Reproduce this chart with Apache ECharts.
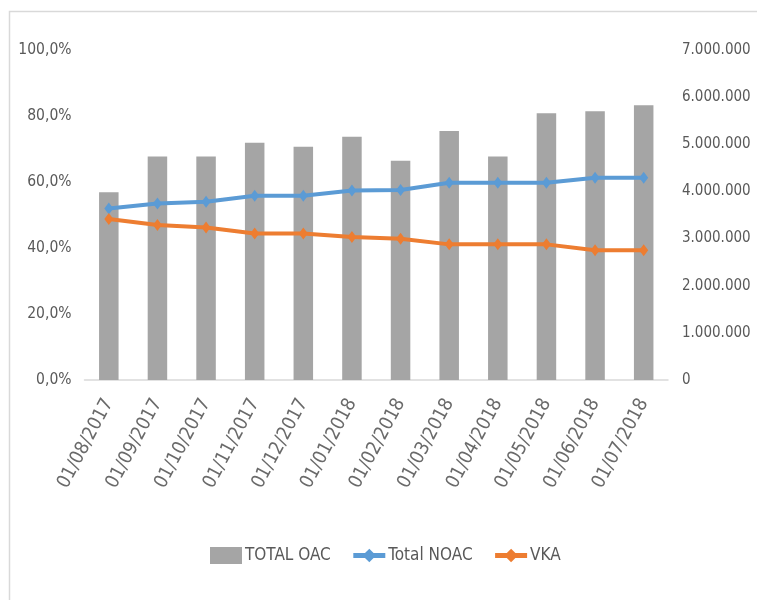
<!DOCTYPE html>
<html>
<head>
<meta charset="utf-8">
<script src="https://cdn.jsdelivr.net/npm/echarts@6/dist/echarts.min.js"></script>
<style>html,body{margin:0;padding:0;background:#fff}#c{width:757px;height:600px}</style>
</head>
<body>
<div id="c"></div>
<script>
const categories = ['01/08/2017','01/09/2017','01/10/2017','01/11/2017','01/12/2017','01/01/2018','01/02/2018','01/03/2018','01/04/2018','01/05/2018','01/06/2018','01/07/2018'];
const totalOAC = [3980000, 4740000, 4740000, 5030000, 4950000, 5160000, 4650000, 5280000, 4740000, 5660000, 5700000, 5830000];
const totalNOAC = [52.0, 53.5, 54.0, 55.8, 55.8, 57.4, 57.6, 59.8, 59.8, 59.8, 61.3, 61.3];
const vka = [48.8, 47.0, 46.2, 44.4, 44.4, 43.3, 42.8, 41.1, 41.1, 41.1, 39.3, 39.3];
const leftTicks = [0, 20, 40, 60, 80, 100];
const rightTicks = [0, 1000000, 2000000, 3000000, 4000000, 5000000, 6000000, 7000000];

const FONT = '"DejaVu Sans Condensed", "Liberation Sans Narrow", sans-serif';
const TXT = '#595959';
const chart = echarts.init(document.getElementById('c'), null, {renderer: 'canvas'});
chart.setOption({
  animation: false,
  backgroundColor: '#fff',
  textStyle: {fontFamily: FONT},
  graphic: [{
    type: 'rect', silent: true,
    shape: {x: 9.5, y: 11.5, width: 800, height: 650},
    style: {fill: 'none', stroke: '#d9d9d9', lineWidth: 1.5}
  }],
  grid: {left: 84.5, right: 89, top: 50, bottom: 220},
  legend: {
    left: 210, top: 547, padding: 0,
    itemWidth: 32, itemHeight: 17, itemGap: 20,
    textStyle: {fontFamily: FONT, fontSize: 17, color: TXT, padding: [0, 0, 0, -2]},
    data: [
      {name: 'TOTAL OAC', icon: 'rect'},
      {name: 'Total NOAC', lineStyle: {width: 5}},
      {name: 'VKA', lineStyle: {width: 5}}
    ]
  },
  xAxis: {
    type: 'category', data: categories,
    axisLine: {lineStyle: {color: '#d9d9d9', width: 1.5}},
    axisTick: {show: false},
    axisLabel: {rotate: 62, interval: 0, margin: 20, fontFamily: FONT, fontSize: 19, color: '#6a6a6a'}
  },
  yAxis: [{
    type: 'value', min: leftTicks[0], max: leftTicks[leftTicks.length - 1], interval: 20,
    splitLine: {show: false}, axisLine: {show: false}, axisTick: {show: false},
    axisLabel: {margin: 13, fontFamily: FONT, fontSize: 15.5, color: TXT,
      formatter: v => v.toFixed(1).replace('.', ',') + '%'}
  }, {
    type: 'value', min: rightTicks[0], max: rightTicks[rightTicks.length - 1], interval: 1000000,
    position: 'right',
    splitLine: {show: false}, axisLine: {show: false}, axisTick: {show: false},
    axisLabel: {margin: 14, fontFamily: FONT, fontSize: 15, color: TXT,
      formatter: v => String(v).replace(/\B(?=(\d{3})+(?!\d))/g, '.')}
  }],
  series: [{
    name: 'TOTAL OAC', type: 'bar', yAxisIndex: 1, data: totalOAC,
    barWidth: 19.5, itemStyle: {color: '#A5A5A5'}
  }, {
    name: 'Total NOAC', type: 'line', yAxisIndex: 0, data: totalNOAC,
    symbol: 'diamond', symbolSize: [9, 12],
    lineStyle: {color: '#5B9BD5', width: 4}, itemStyle: {color: '#5B9BD5'}
  }, {
    name: 'VKA', type: 'line', yAxisIndex: 0, data: vka,
    symbol: 'diamond', symbolSize: [9, 12],
    lineStyle: {color: '#ED7D31', width: 4}, itemStyle: {color: '#ED7D31'}
  }]
});
</script>
</body>
</html>
